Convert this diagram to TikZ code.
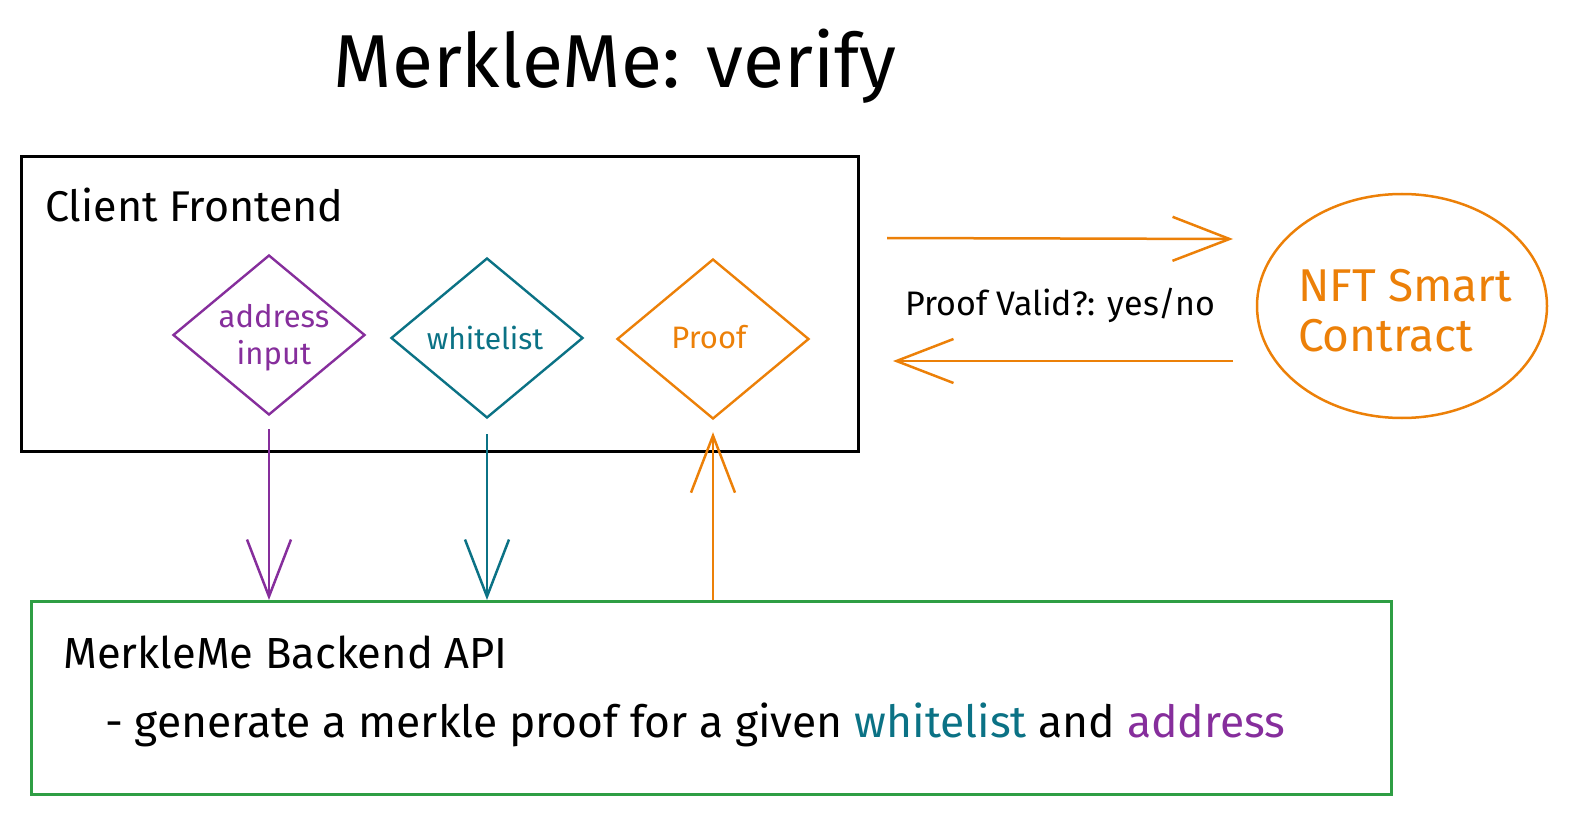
\documentclass[tikz,border=0pt]{standalone}
\usepackage{fontspec}
\setmainfont{Fira Sans}
\usetikzlibrary{shapes.geometric,arrows.meta}
\definecolor{cpurple}{HTML}{862E9C}
\definecolor{cteal}{HTML}{0B7285}
\definecolor{corange}{HTML}{EC8008}
\definecolor{cgreen}{HTML}{2F9E44}
\tikzset{
  box/.style={draw, line width=2.8pt, inner sep=0pt, anchor=north west},
  dia/.style={diamond, draw, line width=2.4pt, inner sep=0pt, minimum width=192pt, minimum height=160pt},
  dlabel/.style={inner sep=0pt, align=center},
  arr/.style={line width=2.5pt, -{Straight Barb[length=57pt,width=44pt,line width=2.5pt]}},
  lbl/.style={inner sep=0pt, anchor=west},
  big/.style={font=\fontsize{43.5}{48}\selectfont},
}
\begin{document}
\begin{tikzpicture}[x=1pt,y=-1pt]
\useasboundingbox (0,0) rectangle (1569,813);
% title
\node[inner sep=0pt] (title) at (615,66) {\fontsize{75}{80}\selectfont MerkleMe: verify};
% frontend box
\node[box, minimum width=837pt, minimum height=295pt] (front) at (20,155) {};
\node[lbl, font=\fontsize{43}{48}\selectfont] (fronttxt) at (45,205) {Client Frontend};
% diamonds
\node[dia, cpurple] (addr) at (269,335) {};
\node[dlabel, cpurple, font=\fontsize{31}{37}\selectfont] (addrtxt) at (274,338) {address\\input};
\node[dia, cteal] (wl) at (487,338) {};
\node[dlabel, cteal, font=\fontsize{30}{34}\selectfont] (wltxt) at (485,338) {whitelist};
\node[dia, corange] (proof) at (713,339) {};
\node[dlabel, corange, font=\fontsize{31}{34}\selectfont] (prooftxt) at (709,337) {Proof};
% backend box
\node[box, cgreen, minimum width=1360pt, minimum height=193pt] (back) at (30,600) {};
\node[lbl, big] (backtxt) at (63,652) {MerkleMe Backend API};
\node[lbl, font=\fontsize{44.4}{48}\selectfont] (backsub) at (105,725) {- generate a merkle proof for a given \textcolor{cteal}{whitelist} and \textcolor{cpurple}{address}};
% vertical arrows
\draw[arr, cpurple, shorten <=13pt] (addr.south) -- (addr.south |- back.north);
\draw[arr, cteal, shorten <=15pt] (wl.south) -- (wl.south |- back.north);
\draw[arr, corange, shorten >=12pt] (back.north -| proof.south) -- (proof.south);
% smart contract
\node[ellipse, draw, corange, line width=2.5pt, minimum width=290pt, minimum height=224pt] (nft) at (1402,306) {};
\node[align=left, inner sep=0pt, corange, font=\fontsize{46}{50}\selectfont] (nfttxt) at (1405,311) {NFT Smart\\Contract};
% horizontal arrows
\coordinate (r1) at (887,238);
\coordinate (r2) at (1233,239);
\coordinate (l1) at (1233,361);
\coordinate (l2) at (893,361);
\draw[arr, corange] (r1) -- (r2);
\draw[arr, corange] (l1) -- (l2);
\node[lbl, font=\fontsize{34}{38}\selectfont] (valid) at (905,305) {Proof Valid?: yes/no};
\end{tikzpicture}
\end{document}
